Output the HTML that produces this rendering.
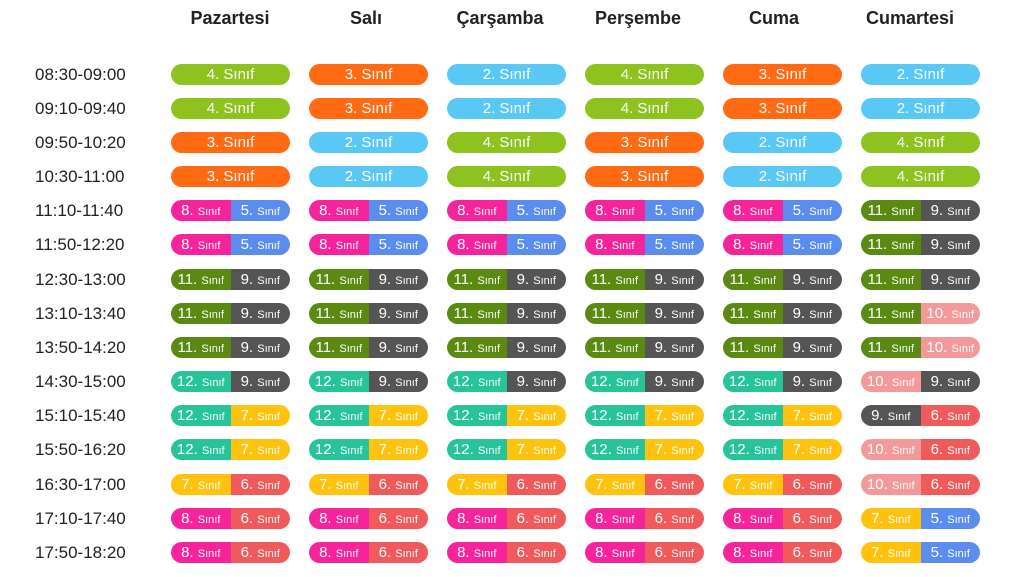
<!DOCTYPE html>
<html><head><meta charset="utf-8"><style>
body{margin:0;width:1024px;height:577px;background:#fff;overflow:hidden;font-family:"Liberation Sans",sans-serif;position:relative}
.h{position:absolute;top:8px;font-size:18px;font-weight:bold;color:#222;text-align:center;width:140px}
.r{position:absolute;left:0;height:21px;width:1024px}
.t{position:absolute;left:35px;top:0;font-size:17px;color:#222;line-height:21px}
.c{position:absolute;left:171px;top:0;display:flex;gap:19px}
.p{width:119px;height:21px;border-radius:11px;display:flex;overflow:hidden;color:#fff;font-size:15px;line-height:21px;justify-content:center}
.p span{flex:1;text-align:center;font-size:15px}
.p span small{font-size:11px}
.g{background:#8dc21f}.o{background:#ff6a13}.b{background:#5ac8f5}.k{background:#f5249a}.u{background:#5b8def}
.d{background:#5a8a12}.y{background:#555}.e{background:#27c49a}.w{background:#ffc20e}.s{background:#f4999a}.x{background:#f05a5a}
</style></head><body>
<div class="h" style="left:160px">Pazartesi</div>
<div class="h" style="left:296px">Salı</div>
<div class="h" style="left:430px">Çarşamba</div>
<div class="h" style="left:568px">Perşembe</div>
<div class="h" style="left:704px">Cuma</div>
<div class="h" style="left:840px">Cumartesi</div>

<div class="r" style="top:64px"><div class="t">08:30-09:00</div><div class="c"><div class="p g">4. Sınıf</div><div class="p o">3. Sınıf</div><div class="p b">2. Sınıf</div><div class="p g">4. Sınıf</div><div class="p o">3. Sınıf</div><div class="p b">2. Sınıf</div></div></div>
<div class="r" style="top:98px"><div class="t">09:10-09:40</div><div class="c"><div class="p g">4. Sınıf</div><div class="p o">3. Sınıf</div><div class="p b">2. Sınıf</div><div class="p g">4. Sınıf</div><div class="p o">3. Sınıf</div><div class="p b">2. Sınıf</div></div></div>
<div class="r" style="top:132px"><div class="t">09:50-10:20</div><div class="c"><div class="p o">3. Sınıf</div><div class="p b">2. Sınıf</div><div class="p g">4. Sınıf</div><div class="p o">3. Sınıf</div><div class="p b">2. Sınıf</div><div class="p g">4. Sınıf</div></div></div>
<div class="r" style="top:166px"><div class="t">10:30-11:00</div><div class="c"><div class="p o">3. Sınıf</div><div class="p b">2. Sınıf</div><div class="p g">4. Sınıf</div><div class="p o">3. Sınıf</div><div class="p b">2. Sınıf</div><div class="p g">4. Sınıf</div></div></div>

<div class="r" style="top:200px"><div class="t">11:10-11:40</div><div class="c">
<div class="p"><span class="k">8. <small>Sınıf</small></span><span class="u">5. <small>Sınıf</small></span></div>
<div class="p"><span class="k">8. <small>Sınıf</small></span><span class="u">5. <small>Sınıf</small></span></div>
<div class="p"><span class="k">8. <small>Sınıf</small></span><span class="u">5. <small>Sınıf</small></span></div>
<div class="p"><span class="k">8. <small>Sınıf</small></span><span class="u">5. <small>Sınıf</small></span></div>
<div class="p"><span class="k">8. <small>Sınıf</small></span><span class="u">5. <small>Sınıf</small></span></div>
<div class="p"><span class="d">11. <small>Sınıf</small></span><span class="y">9. <small>Sınıf</small></span></div></div></div>
<div class="r" style="top:234px"><div class="t">11:50-12:20</div><div class="c">
<div class="p"><span class="k">8. <small>Sınıf</small></span><span class="u">5. <small>Sınıf</small></span></div>
<div class="p"><span class="k">8. <small>Sınıf</small></span><span class="u">5. <small>Sınıf</small></span></div>
<div class="p"><span class="k">8. <small>Sınıf</small></span><span class="u">5. <small>Sınıf</small></span></div>
<div class="p"><span class="k">8. <small>Sınıf</small></span><span class="u">5. <small>Sınıf</small></span></div>
<div class="p"><span class="k">8. <small>Sınıf</small></span><span class="u">5. <small>Sınıf</small></span></div>
<div class="p"><span class="d">11. <small>Sınıf</small></span><span class="y">9. <small>Sınıf</small></span></div></div></div>
<div class="r" style="top:269px"><div class="t">12:30-13:00</div><div class="c">
<div class="p"><span class="d">11. <small>Sınıf</small></span><span class="y">9. <small>Sınıf</small></span></div>
<div class="p"><span class="d">11. <small>Sınıf</small></span><span class="y">9. <small>Sınıf</small></span></div>
<div class="p"><span class="d">11. <small>Sınıf</small></span><span class="y">9. <small>Sınıf</small></span></div>
<div class="p"><span class="d">11. <small>Sınıf</small></span><span class="y">9. <small>Sınıf</small></span></div>
<div class="p"><span class="d">11. <small>Sınıf</small></span><span class="y">9. <small>Sınıf</small></span></div>
<div class="p"><span class="d">11. <small>Sınıf</small></span><span class="y">9. <small>Sınıf</small></span></div></div></div>
<div class="r" style="top:303px"><div class="t">13:10-13:40</div><div class="c">
<div class="p"><span class="d">11. <small>Sınıf</small></span><span class="y">9. <small>Sınıf</small></span></div>
<div class="p"><span class="d">11. <small>Sınıf</small></span><span class="y">9. <small>Sınıf</small></span></div>
<div class="p"><span class="d">11. <small>Sınıf</small></span><span class="y">9. <small>Sınıf</small></span></div>
<div class="p"><span class="d">11. <small>Sınıf</small></span><span class="y">9. <small>Sınıf</small></span></div>
<div class="p"><span class="d">11. <small>Sınıf</small></span><span class="y">9. <small>Sınıf</small></span></div>
<div class="p"><span class="d">11. <small>Sınıf</small></span><span class="s">10. <small>Sınıf</small></span></div></div></div>
<div class="r" style="top:337px"><div class="t">13:50-14:20</div><div class="c">
<div class="p"><span class="d">11. <small>Sınıf</small></span><span class="y">9. <small>Sınıf</small></span></div>
<div class="p"><span class="d">11. <small>Sınıf</small></span><span class="y">9. <small>Sınıf</small></span></div>
<div class="p"><span class="d">11. <small>Sınıf</small></span><span class="y">9. <small>Sınıf</small></span></div>
<div class="p"><span class="d">11. <small>Sınıf</small></span><span class="y">9. <small>Sınıf</small></span></div>
<div class="p"><span class="d">11. <small>Sınıf</small></span><span class="y">9. <small>Sınıf</small></span></div>
<div class="p"><span class="d">11. <small>Sınıf</small></span><span class="s">10. <small>Sınıf</small></span></div></div></div>
<div class="r" style="top:371px"><div class="t">14:30-15:00</div><div class="c">
<div class="p"><span class="e">12. <small>Sınıf</small></span><span class="y">9. <small>Sınıf</small></span></div>
<div class="p"><span class="e">12. <small>Sınıf</small></span><span class="y">9. <small>Sınıf</small></span></div>
<div class="p"><span class="e">12. <small>Sınıf</small></span><span class="y">9. <small>Sınıf</small></span></div>
<div class="p"><span class="e">12. <small>Sınıf</small></span><span class="y">9. <small>Sınıf</small></span></div>
<div class="p"><span class="e">12. <small>Sınıf</small></span><span class="y">9. <small>Sınıf</small></span></div>
<div class="p"><span class="s">10. <small>Sınıf</small></span><span class="y">9. <small>Sınıf</small></span></div></div></div>
<div class="r" style="top:405px"><div class="t">15:10-15:40</div><div class="c">
<div class="p"><span class="e">12. <small>Sınıf</small></span><span class="w">7. <small>Sınıf</small></span></div>
<div class="p"><span class="e">12. <small>Sınıf</small></span><span class="w">7. <small>Sınıf</small></span></div>
<div class="p"><span class="e">12. <small>Sınıf</small></span><span class="w">7. <small>Sınıf</small></span></div>
<div class="p"><span class="e">12. <small>Sınıf</small></span><span class="w">7. <small>Sınıf</small></span></div>
<div class="p"><span class="e">12. <small>Sınıf</small></span><span class="w">7. <small>Sınıf</small></span></div>
<div class="p"><span class="y">9. <small>Sınıf</small></span><span class="x">6. <small>Sınıf</small></span></div></div></div>
<div class="r" style="top:439px"><div class="t">15:50-16:20</div><div class="c">
<div class="p"><span class="e">12. <small>Sınıf</small></span><span class="w">7. <small>Sınıf</small></span></div>
<div class="p"><span class="e">12. <small>Sınıf</small></span><span class="w">7. <small>Sınıf</small></span></div>
<div class="p"><span class="e">12. <small>Sınıf</small></span><span class="w">7. <small>Sınıf</small></span></div>
<div class="p"><span class="e">12. <small>Sınıf</small></span><span class="w">7. <small>Sınıf</small></span></div>
<div class="p"><span class="e">12. <small>Sınıf</small></span><span class="w">7. <small>Sınıf</small></span></div>
<div class="p"><span class="s">10. <small>Sınıf</small></span><span class="x">6. <small>Sınıf</small></span></div></div></div>
<div class="r" style="top:474px"><div class="t">16:30-17:00</div><div class="c">
<div class="p"><span class="w">7. <small>Sınıf</small></span><span class="x">6. <small>Sınıf</small></span></div>
<div class="p"><span class="w">7. <small>Sınıf</small></span><span class="x">6. <small>Sınıf</small></span></div>
<div class="p"><span class="w">7. <small>Sınıf</small></span><span class="x">6. <small>Sınıf</small></span></div>
<div class="p"><span class="w">7. <small>Sınıf</small></span><span class="x">6. <small>Sınıf</small></span></div>
<div class="p"><span class="w">7. <small>Sınıf</small></span><span class="x">6. <small>Sınıf</small></span></div>
<div class="p"><span class="s">10. <small>Sınıf</small></span><span class="x">6. <small>Sınıf</small></span></div></div></div>
<div class="r" style="top:508px"><div class="t">17:10-17:40</div><div class="c">
<div class="p"><span class="k">8. <small>Sınıf</small></span><span class="x">6. <small>Sınıf</small></span></div>
<div class="p"><span class="k">8. <small>Sınıf</small></span><span class="x">6. <small>Sınıf</small></span></div>
<div class="p"><span class="k">8. <small>Sınıf</small></span><span class="x">6. <small>Sınıf</small></span></div>
<div class="p"><span class="k">8. <small>Sınıf</small></span><span class="x">6. <small>Sınıf</small></span></div>
<div class="p"><span class="k">8. <small>Sınıf</small></span><span class="x">6. <small>Sınıf</small></span></div>
<div class="p"><span class="w">7. <small>Sınıf</small></span><span class="u">5. <small>Sınıf</small></span></div></div></div>
<div class="r" style="top:542px"><div class="t">17:50-18:20</div><div class="c">
<div class="p"><span class="k">8. <small>Sınıf</small></span><span class="x">6. <small>Sınıf</small></span></div>
<div class="p"><span class="k">8. <small>Sınıf</small></span><span class="x">6. <small>Sınıf</small></span></div>
<div class="p"><span class="k">8. <small>Sınıf</small></span><span class="x">6. <small>Sınıf</small></span></div>
<div class="p"><span class="k">8. <small>Sınıf</small></span><span class="x">6. <small>Sınıf</small></span></div>
<div class="p"><span class="k">8. <small>Sınıf</small></span><span class="x">6. <small>Sınıf</small></span></div>
<div class="p"><span class="w">7. <small>Sınıf</small></span><span class="u">5. <small>Sınıf</small></span></div></div></div>
</body></html>
